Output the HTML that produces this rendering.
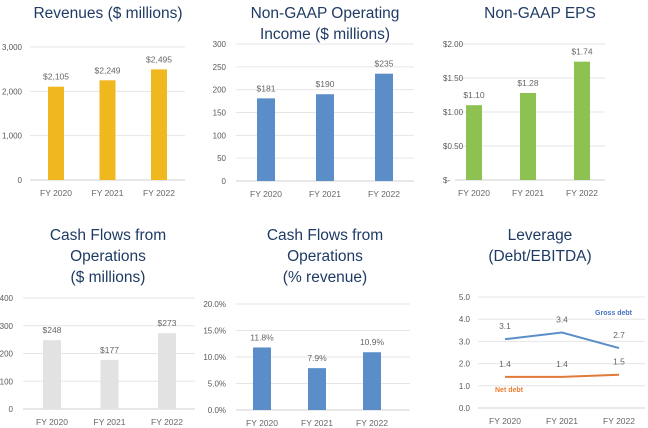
<!DOCTYPE html>
<html><head><meta charset="utf-8"><style>
body{margin:0;background:#fff;}
svg{display:block;font-family:"Liberation Sans",sans-serif;}
.t{fill:#1f3b64;font-size:15.5px;text-anchor:middle;}
.ax{fill:#595959;font-size:8px;}
.v{fill:#666;font-size:8.5px;text-anchor:middle;}
</style></head><body>
<svg id="c" width="648" height="428" viewBox="0 0 648 428">
<text class="t" x="108" y="18">Revenues ($ millions)</text>
<text class="t" x="325" y="18">Non-GAAP Operating</text>
<text class="t" x="325" y="39">Income ($ millions)</text>
<text class="t" x="540" y="18">Non-GAAP EPS</text>
<text class="t" x="108" y="240">Cash Flows from</text>
<text class="t" x="108" y="261">Operations</text>
<text class="t" x="108" y="282">($ millions)</text>
<text class="t" x="325" y="240">Cash Flows from</text>
<text class="t" x="325" y="261">Operations</text>
<text class="t" x="325" y="282">(% revenue)</text>
<text class="t" x="540" y="240">Leverage</text>
<text class="t" x="540" y="261">(Debt/EBITDA)</text>
</svg>
<script>
const categories=["FY 2020","FY 2021","FY 2022"];
const revenues=[2105,2249,2495];
const revenueTicks=[0,1000,2000,3000];
const revenueTickLabels=["0","1,000","2,000","3,000"];
const revenueLabels=["$2,105","$2,249","$2,495"];
const opIncome=[181,190,235];
const opTicks=[0,50,100,150,200,250,300];
const opLabels=["$181","$190","$235"];
const eps=[1.10,1.28,1.74];
const epsTicks=[0,0.5,1,1.5,2];
const epsTickLabels=["$-","$0.50","$1.00","$1.50","$2.00"];
const epsLabels=["$1.10","$1.28","$1.74"];
const cfo=[248,177,273];
const cfoTicks=[0,100,200,300,400];
const cfoLabels=["$248","$177","$273"];
const cfoPct=[11.8,7.9,10.9];
const pctTicks=[0,5,10,15,20];
const pctTickLabels=["0.0%","5.0%","10.0%","15.0%","20.0%"];
const pctLabels=["11.8%","7.9%","10.9%"];
const grossDebt=[3.1,3.4,2.7];
const netDebt=[1.4,1.4,1.5];
const levTicks=[0,1,2,3,4,5];
const levTickLabels=["0.0","1.0","2.0","3.0","4.0","5.0"];

const svg=document.getElementById('c');
const NS='http://www.w3.org/2000/svg';
function mk(tag,attrs,txt){const e=document.createElementNS(NS,tag);for(const k in attrs)e.setAttribute(k,attrs[k]);if(txt!==undefined)e.textContent=txt;svg.appendChild(e);return e;}

function chart(cfg){
  const y=v=>cfg.y0+(cfg.y1-cfg.y0)*(v-cfg.min)/(cfg.max-cfg.min);
  const x=i=>cfg.cx[0]+(cfg.cx[2]-cfg.cx[0])*i/2;
  cfg.ticks.forEach((t,i)=>{
    const g=mk('line',{x1:cfg.gx0,x2:cfg.gx1,y1:y(t),y2:y(t),stroke:i==0?'#d0d0d0':'#e6e6e6','stroke-width':1});
    
    
    const l=mk('text',{class:'ax',x:cfg.lx,y:y(t)+3,'text-anchor':cfg.anchor||'end'},cfg.tickLabels[i]);
    
    
  });
  categories.forEach((c,i)=>{
    const l=mk('text',{class:'v',x:x(i),y:cfg.y0+16,fill:'#444'},c);
    
    
  });
  if(cfg.values){
    cfg.values.forEach((v,i)=>{
      const b=mk('rect',{x:x(i)-cfg.bw/2,y:y(v),width:cfg.bw,height:cfg.y0-y(v),fill:cfg.color});
      
      
      const l=mk('text',{class:'v',x:x(i),y:y(v)-7},cfg.labels[i]);
      
      
    });
  }
  return {x,y};
}
chart({name:'revenue',y0:180,y1:47,min:0,max:3000,cx:[56,107,159],gx0:30,gx1:185,lx:22,ticks:revenueTicks,tickLabels:revenueTickLabels,values:revenues,labels:revenueLabels,color:'#f0b81f',bw:16});
chart({name:'op-income',y0:181,y1:44,min:0,max:300,cx:[266,325,384],gx0:236,gx1:414,lx:226,ticks:opTicks,tickLabels:opTicks.map(String),values:opIncome,labels:opLabels,color:'#5b8ec8',bw:18});
chart({name:'eps',y0:180,y1:44,min:0,max:2,cx:[474,527,582],gx0:455,gx1:605,lx:443,anchor:'start',ticks:epsTicks,tickLabels:epsTickLabels,values:eps,labels:epsLabels,color:'#8dc152',bw:16});
chart({name:'cfo',y0:409,y1:298,min:0,max:400,cx:[52,108,167],gx0:23,gx1:195,lx:13,ticks:cfoTicks,tickLabels:cfoTicks.map(String),values:cfo,labels:cfoLabels,color:'#e2e2e2',bw:18});
chart({name:'cfo-pct',y0:410,y1:304,min:0,max:20,cx:[262,316,372],gx0:236,gx1:410,lx:226,ticks:pctTicks,tickLabels:pctTickLabels,values:cfoPct,labels:pctLabels,color:'#5b8ec8',bw:18});
const lev=chart({name:'leverage',y0:408,y1:297,min:0,max:5,cx:[505,562,619],gx0:478,gx1:645,lx:470,ticks:levTicks,tickLabels:levTickLabels});
[[grossDebt,'#5b8ec8','gross-debt'],[netDebt,'#e07b39','net-debt']].forEach(([s,col,nm])=>{
  const p=mk('polyline',{points:s.map((v,i)=>lev.x(i)+','+lev.y(v)).join(' '),fill:'none',stroke:col,'stroke-width':2});
  
  
  s.forEach((v,i)=>{
    const l=mk('text',{class:'v',x:lev.x(i),y:lev.y(v)-10,fill:'#767676'},v.toFixed(1));
    
    
  });
});
const g=mk('text',{x:632,y:315,'font-size':'7px','font-weight':'bold',fill:'#4472c4','text-anchor':'end'},'Gross debt');


const n=mk('text',{x:495,y:392,'font-size':'7px','font-weight':'bold',fill:'#ed7d31'},'Net debt');


</script>
</body></html>
